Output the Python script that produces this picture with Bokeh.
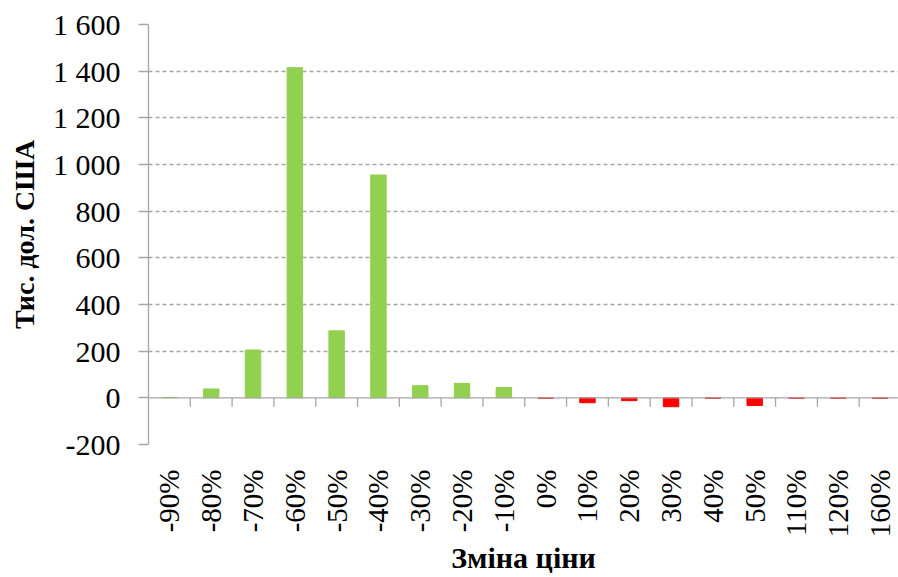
from bokeh.plotting import figure
from bokeh.models import Range1d, FixedTicker, Span
from bokeh.embed import file_html
from bokeh.resources import INLINE

categories = ["-90%", "-80%", "-70%", "-60%", "-50%", "-40%", "-30%", "-20%", "-10%",
              "0%", "10%", "20%", "30%", "40%", "50%", "110%", "120%", "160%"]
values = [2, 38, 205, 1415, 287, 955, 52, 62, 44,
          -2, -21, -12, -38, -2, -33, -2, -2, -2]
y_ticks = [-200, 0, 200, 400, 600, 800, 1000, 1200, 1400, 1600]
y_tick_labels = ["-200", "0", "200", "400", "600", "800", "1 000", "1 200", "1 400", "1 600"]
x_title = "Зміна ціни"
y_title = "Тис. дол. США"

FONT = "'Liberation Serif', 'Times New Roman', serif"
GREEN = "#92D050"
RED = "#FF0000"
GRID = "#a6a6a6"

W, H = 898, 577
LEFT, TOP, BOTTOM = 148, 24, 132
n = len(categories)
xs = [i + 0.5 for i in range(n)]
colors = [GREEN if v >= 0 else RED for v in values]
y0, y1 = y_ticks[0], y_ticks[-1]
px_per_unit = (H - TOP - BOTTOM) / (y1 - y0)

p = figure(width=W, height=H, output_backend="svg", toolbar_location=None,
           x_range=Range1d(0, 17.94), y_range=Range1d(y0, y1),
           min_border_left=LEFT, min_border_right=0, min_border_top=TOP,
           min_border_bottom=BOTTOM)
p.outline_line_color = None
p.background_fill_color = "white"

p.vbar(x=xs, top=values, bottom=0, width=0.37, color=colors)

# zero line (category axis crossing at 0)
p.add_layout(Span(location=0, dimension="width", line_color=GRID, line_width=1.3))
# category boundary ticks below the zero line
bx = list(range(1, n + 1))
p.segment(x0=bx, x1=bx, y0=[0] * len(bx), y1=[-9 / px_per_unit] * len(bx),
          line_color=GRID, line_width=1.3)

# y axis
p.yaxis.ticker = FixedTicker(ticks=y_ticks)
p.yaxis.major_label_overrides = {t: l for t, l in zip(y_ticks, y_tick_labels)}
p.yaxis.axis_line_color = GRID
p.yaxis.axis_line_width = 1.3
p.yaxis.major_tick_line_color = GRID
p.yaxis.major_tick_line_width = 1.3
p.yaxis.major_tick_in = 0
p.yaxis.major_tick_out = 10
p.yaxis.minor_tick_line_color = None
p.yaxis.major_label_text_font = FONT
p.yaxis.major_label_text_font_size = "30px"
p.yaxis.major_label_text_color = "black"
p.yaxis.major_label_standoff = 18
p.yaxis.axis_label = y_title
p.yaxis.axis_label_text_font = FONT
p.yaxis.axis_label_text_font_style = "bold"
p.yaxis.axis_label_text_font_size = "28px"
p.yaxis.axis_label_text_color = "black"
p.yaxis.axis_label_standoff = 10

# x axis (labels only, low position)
p.xaxis.ticker = FixedTicker(ticks=xs)
p.xaxis.major_label_overrides = {x: c for x, c in zip(xs, categories)}
p.xaxis.major_label_orientation = 3.14159265 / 2
p.xaxis.axis_line_color = None
p.xaxis.major_tick_line_color = None
p.xaxis.minor_tick_line_color = None
p.xaxis.major_label_text_font = FONT
p.xaxis.major_label_text_font_size = "29px"
p.xaxis.major_label_text_color = "black"
p.xaxis.major_label_standoff = 19
p.xaxis.axis_label = x_title
p.xaxis.axis_label_text_font = FONT
p.xaxis.axis_label_text_font_style = "bold"
p.xaxis.axis_label_text_font_size = "30px"
p.xaxis.axis_label_text_color = "black"
p.xaxis.axis_label_standoff = 1

# grid
p.xgrid.grid_line_color = None
p.ygrid.ticker = FixedTicker(ticks=[t for t in y_ticks if t != 0])
p.ygrid.grid_line_color = GRID
p.ygrid.grid_line_dash = "4 3"
p.ygrid.grid_line_width = 1.3

open("out.html", "w").write(file_html(p, INLINE))
